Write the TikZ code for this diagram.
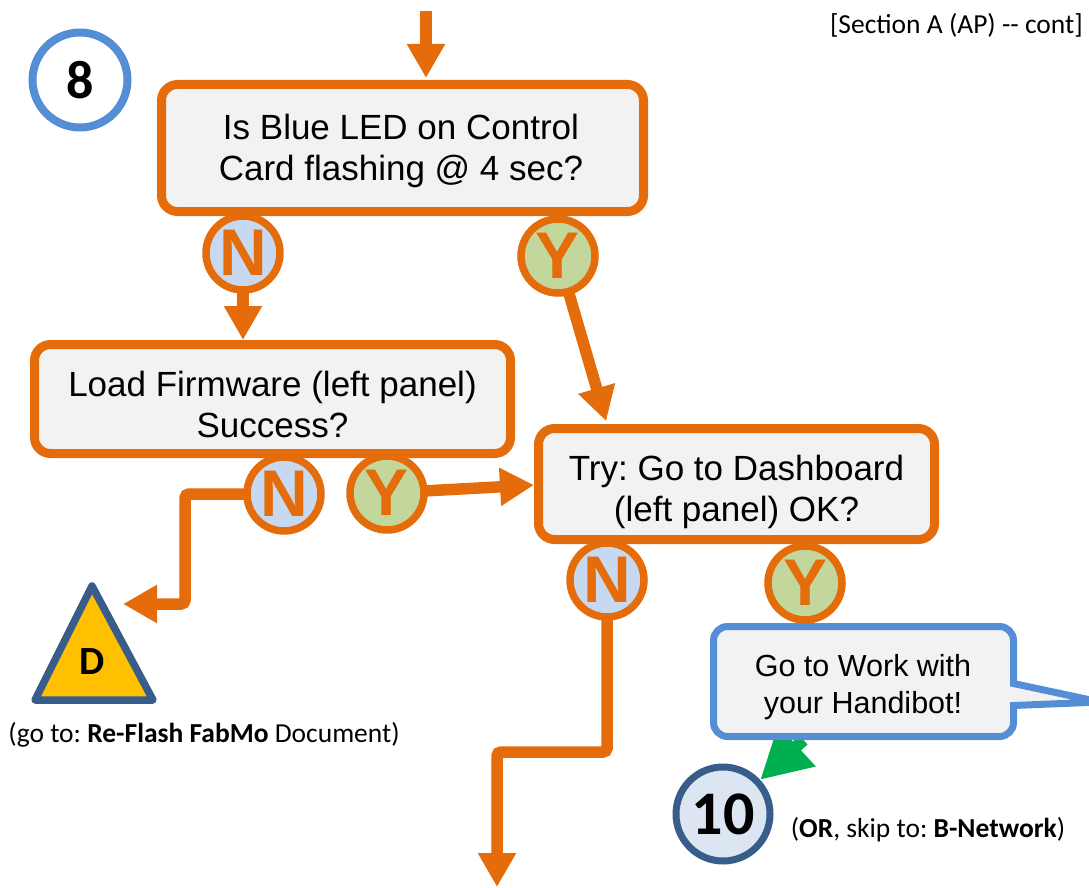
\documentclass[tikz,border=0pt]{standalone}
\usepackage{fontspec}
\setmainfont{Liberation Sans}
\newfontfamily\calibri{Carlito}
\usetikzlibrary{arrows.meta,shapes.callouts,calc}
\frenchspacing

\definecolor{orng}{HTML}{E46C0A}
\definecolor{boxfill}{HTML}{F2F2F2}
\definecolor{nofill}{HTML}{C6D9F1}
\definecolor{yesfill}{HTML}{C3D69B}
\definecolor{ltblue}{HTML}{558ED5}
\definecolor{dkblue}{HTML}{385D8A}
\definecolor{gold}{HTML}{FFC000}
\definecolor{palebl}{HTML}{DCE6F2}
\definecolor{grn}{HTML}{00B050}

\pgfdeclarelayer{bg}
\pgfsetlayers{bg,main}

\tikzset{
  qbox/.style={draw=orng, line width=9pt, fill=boxfill, rounded corners=16pt, inner sep=0pt},
  qtext/.style={align=center, inner sep=0pt, font=\fontsize{35}{41}\selectfont},
  yn/.style={circle, draw=orng, line width=7.5pt, minimum size=74pt, inner sep=0pt,
    text=orng, font=\fontsize{66}{66}\selectfont\bfseries},
  nmark/.style={yn, fill=nofill},
  ymark/.style={yn, fill=yesfill},
  flow/.style={draw=orng, line width=11.5pt, -{Triangle[length=34pt,width=36pt]}},
  goflow/.style={draw=grn, line width=12pt, -{Triangle[length=50pt,width=52pt]}},
  note/.style={inner sep=0pt, font=\calibri\fontsize{27.5}{32}\selectfont},
  stepnum/.style={circle, inner sep=0pt, font=\calibri\bfseries},
}

\begin{document}
\begin{tikzpicture}[x=1pt,y=-1pt]
\useasboundingbox (0,0) rectangle (1089,888);
\clip (0,0) rectangle (1089,888);

% question boxes
\node[qbox, minimum width=482pt, minimum height=127pt] (q1) at (402.5,148) {};
\node[qtext] (q1t) at (401,150.5) {Is Blue LED on Control\\Card flashing @ 4 sec?};
\node[qbox, minimum width=476pt, minimum height=109pt] (q2) at (272.5,399) {};
\node[qtext] (q2t) at (272.5,404) {Load Firmware (left panel)\\Success?};
\node[qbox, minimum width=396pt, minimum height=111pt] (q3) at (736.5,484) {};
\node[qtext] (q3t) at (736.5,492) {Try: Go to Dashboard\\(left panel) OK?};

% answer markers
\node[nmark] (n1) at (243,253) {N};
\node[ymark] (y1) at (558,256) {Y};
\node[nmark] (n2) at (284,494) {N};
\node[ymark] (y2) at (387,493) {Y};
\node[nmark] (n3) at (607,580) {N};
\node[ymark] (y3) at (805,583) {Y};

% step number
\node[stepnum, draw=ltblue, line width=8pt, minimum size=95pt,
  font=\calibri\bfseries\fontsize{54}{54}\selectfont] (s8) at (80,80) {8};

% document marker D
\filldraw[fill=gold, draw=dkblue, line width=7.5pt, line join=round]
  (92,586) -- (153,700) -- (35,700) -- cycle;
\node[inner sep=0pt, font=\calibri\bfseries\fontsize{40}{40}\selectfont] (dd) at (92,662) {D};
\coordinate (dtip) at (123,604);
\node[note, anchor=center] (goto) at (204,735)
  {(go to: \textbf{Re-Flash FabMo} Document)};

% final message
\node[rectangle callout, callout absolute pointer={(1100,702)}, callout pointer width=22pt,
  draw=ltblue, line width=7pt, fill=boxfill, rounded corners=14pt,
  minimum width=300pt, minimum height=110pt, inner sep=0pt] (co) at (863.5,681.5) {};
\node[align=center, inner sep=0pt, font=\fontsize{30.5}{37}\selectfont] (cot) at (863,687)
  {Go to Work with\\your Handibot!};

\node[stepnum, draw=dkblue, fill=palebl, line width=7pt, minimum size=94pt,
  font=\calibri\bfseries\fontsize{62}{62}\selectfont] (s10) at (723,814) {10};
\node[note, anchor=center] (skip) at (928,830)
  {(\textbf{OR}, skip to: \textbf{B-Network})};

\node[note, anchor=east] (sect) at (1083,25) {[Section A (AP) -{}- cont]};

% connectors
\coordinate (entry) at (426,11);
\coordinate (k2) at (185,604);
\coordinate (k3) at (497,752);
\coordinate (exit) at (497,887);
\begin{pgfonlayer}{bg}
  \draw[flow, shorten >=2pt] (entry) -- (entry |- q1.north);
  \draw[flow] (n1.center) -- (n1.center |- q2.north);
  \draw[flow, shorten >=3pt] (y1.center) -- ([xshift=73pt]q3.north west);
  \draw[flow] (y2.center) -- ([yshift=-1pt]q3.west);
  \draw[flow, rounded corners=4pt] (n2.center) -| (k2) -- (dtip);
  \draw[flow, rounded corners=4pt] (n3.center) |- (k3) -- (exit);
  \draw[goflow] ([xshift=-60pt]co.south) -- (s10);
\end{pgfonlayer}
\end{tikzpicture}
\end{document}
